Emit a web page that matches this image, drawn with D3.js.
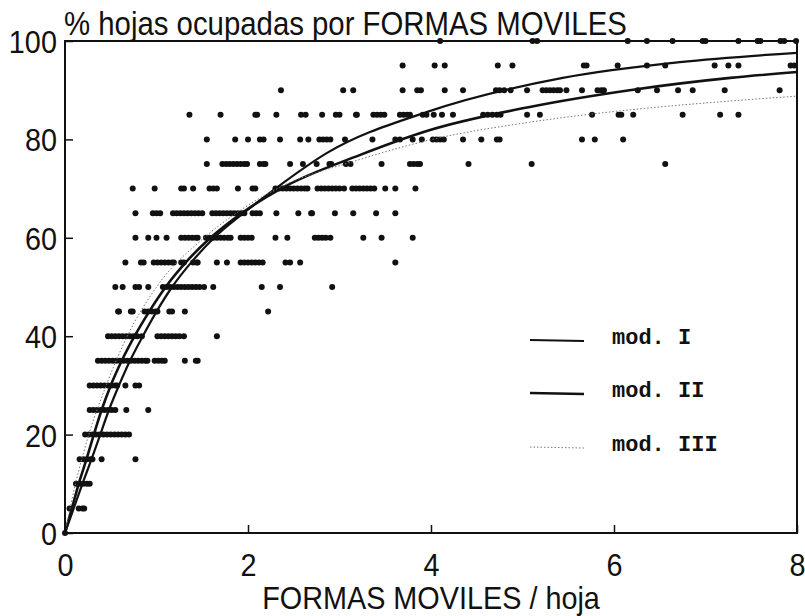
<!DOCTYPE html>
<html>
<head>
<meta charset="utf-8">
<script src="https://cdnjs.cloudflare.com/ajax/libs/d3/7.8.5/d3.min.js"></script>
<style>
body { margin: 0; background: #fff; }
text { font-family: "Liberation Sans", Arial, sans-serif; fill: #111; }
</style>
</head>
<body>
<svg id="chart" width="805" height="616"></svg>
<script>
// % of leaves occupied, one row of observations per 5 % step
var rowPct = [100, 95, 90, 85, 80, 75, 70, 65, 60, 55, 50, 45, 40, 35, 30, 25, 20, 15, 10, 5, 0];

// forms per leaf for every observation in the row above
var rowX = [
	[4.10, 5.11, 5.16, 6.15, 6.36, 6.64, 6.97, 7.00, 7.36, 7.57, 7.60, 7.82, 7.86, 7.99],
	[3.69, 4.04, 4.15, 4.73, 4.89, 5.67, 5.70, 6.04, 6.36, 6.56, 7.10, 7.25, 7.36, 7.93, 7.97],
	[2.36, 3.04, 3.15, 3.69, 3.85, 3.89, 4.15, 4.35, 4.71, 4.75, 4.80, 4.87, 5.05, 5.22, 5.26, 5.30, 5.34, 5.38, 5.41, 5.48, 5.65, 5.82, 5.86, 5.89, 6.26, 6.47, 6.70, 6.86, 7.21, 7.81],
	[1.36, 1.70, 2.08, 2.10, 2.31, 2.58, 2.63, 2.81, 2.96, 3.00, 3.18, 3.19, 3.37, 3.41, 3.45, 3.49, 3.66, 3.70, 3.74, 3.77, 3.91, 3.95, 4.03, 4.12, 4.24, 4.57, 4.62, 4.67, 4.72, 4.76, 5.05, 5.19, 5.76, 6.05, 6.08, 6.21, 6.75, 7.16, 7.36],
	[1.55, 1.86, 2.00, 2.13, 2.17, 2.35, 2.57, 2.66, 2.78, 2.82, 2.86, 2.90, 3.06, 3.36, 3.61, 3.66, 3.80, 3.90, 4.02, 4.06, 4.10, 4.14, 4.35, 4.55, 4.72, 4.75, 5.65, 5.79, 6.10],
	[1.55, 1.72, 1.76, 1.80, 1.84, 1.88, 1.92, 1.96, 1.99, 2.13, 2.17, 2.19, 2.46, 2.60, 2.75, 2.89, 2.91, 3.07, 3.12, 3.46, 3.77, 3.81, 3.85, 3.88, 4.41, 5.10, 6.56],
	[0.74, 0.98, 1.27, 1.30, 1.40, 1.58, 1.62, 1.66, 1.89, 2.05, 2.08, 2.30, 2.34, 2.38, 2.42, 2.46, 2.50, 2.54, 2.58, 2.62, 2.65, 2.76, 2.80, 2.84, 2.88, 2.92, 2.96, 3.00, 3.05, 3.14, 3.18, 3.22, 3.26, 3.30, 3.34, 3.38, 3.50, 3.61, 3.83],
	[0.77, 0.96, 1.00, 1.04, 1.18, 1.22, 1.26, 1.30, 1.34, 1.38, 1.42, 1.46, 1.50, 1.61, 1.65, 1.69, 1.73, 1.77, 1.81, 1.85, 1.89, 1.93, 1.96, 2.05, 2.09, 2.13, 2.31, 2.55, 2.69, 2.70, 2.95, 3.15, 3.40, 3.61],
	[0.77, 0.91, 1.00, 1.11, 1.27, 1.31, 1.35, 1.39, 1.43, 1.45, 1.54, 1.58, 1.62, 1.66, 1.70, 1.74, 1.78, 1.81, 1.92, 1.96, 2.00, 2.04, 2.30, 2.43, 2.73, 2.77, 2.81, 2.85, 2.90, 3.26, 3.46, 3.80],
	[0.66, 0.83, 0.86, 0.97, 1.01, 1.05, 1.09, 1.13, 1.17, 1.19, 1.27, 1.30, 1.40, 1.44, 1.45, 1.66, 1.77, 1.92, 1.96, 2.00, 2.04, 2.08, 2.12, 2.16, 2.41, 2.46, 2.57, 3.61],
	[0.55, 0.63, 0.77, 0.81, 0.91, 1.07, 1.11, 1.15, 1.19, 1.23, 1.27, 1.31, 1.35, 1.39, 1.43, 1.47, 1.52, 1.62, 2.15, 2.35, 2.92],
	[0.58, 0.59, 0.72, 0.74, 0.87, 0.91, 0.95, 0.99, 1.01, 1.14, 1.17, 1.31, 2.22],
	[0.47, 0.51, 0.55, 0.59, 0.63, 0.67, 0.71, 0.75, 0.79, 0.84, 1.01, 1.05, 1.09, 1.13, 1.17, 1.21, 1.25, 1.30, 1.66],
	[0.36, 0.40, 0.44, 0.48, 0.52, 0.56, 0.60, 0.64, 0.68, 0.72, 0.76, 0.80, 0.84, 0.88, 0.90, 0.98, 1.02, 1.06, 1.09, 1.31, 1.43, 1.45],
	[0.27, 0.31, 0.35, 0.39, 0.43, 0.47, 0.51, 0.55, 0.57, 0.66, 0.77, 0.81],
	[0.27, 0.31, 0.35, 0.39, 0.43, 0.47, 0.51, 0.55, 0.67, 0.91],
	[0.22, 0.26, 0.30, 0.34, 0.38, 0.42, 0.46, 0.50, 0.54, 0.58, 0.62, 0.66, 0.70],
	[0.16, 0.20, 0.24, 0.28, 0.30, 0.40, 0.77],
	[0.12, 0.16, 0.20, 0.24, 0.27],
	[0.05, 0.15, 0.19, 0.21],
	[0.00]
];

// fitted models
var modIx = [0, 0.095, 0.19, 0.29, 0.385, 0.48, 0.59, 0.71, 0.85, 1.00, 1.17, 1.38, 1.63, 1.95, 2.30, 2.86, 3.96, 5.44, 6.72, 8];
var modIy = [0, 5, 10, 15, 20, 25, 30, 35, 40, 45, 50, 55, 60, 65, 70, 77.2, 85.6, 92.5, 95.7, 97.6];
var modIIx = [0, 0.075, 0.15, 0.235, 0.315, 0.40, 0.50, 0.62, 0.76, 0.92, 1.10, 1.32, 1.59, 1.93, 2.36, 3.22, 3.99, 5.08, 6.17, 7.27, 8];
var modIIy = [0, 5, 10, 15, 20, 25, 30, 35, 40, 45, 50, 55, 60, 65, 70, 76.8, 81.9, 86.6, 90, 92.5, 93.7];
var modIIIx = [0, 0.055, 0.115, 0.26, 0.45, 0.68, 1.00, 1.52, 1.87, 2.32, 3.22, 3.99, 5.08, 6.17, 7.27, 8];
var modIIIy = [0, 5, 10, 20, 30, 40, 50, 60, 65, 70, 75.9, 79.9, 83.5, 86.0, 87.8, 88.8];

var xTicks = [0, 2, 4, 6, 8];
var yTicks = [0, 20, 40, 60, 80, 100];
var legendNames = ["mod. I", "mod. II", "mod. III"];

var svg = d3.select("#chart");

var x = d3.scaleLinear().domain([0, 8]).range([65, 797]);
var y = d3.scaleLinear().domain([0, 100]).range([533, 41]);

var points = [];
rowPct.forEach(function(p, i) {
	rowX[i].forEach(function(v) { points.push({ x: v, y: p }); });
});

svg.append("g")
	.selectAll("circle")
	.data(points)
	.enter()
	.append("circle")
	.attr("cx", function(d) { return x(d.x); })
	.attr("cy", function(d) { return y(d.y); })
	.attr("r", 3)
	.attr("fill", "#111");

var line = d3.line()
	.x(function(d) { return x(d[0]); })
	.y(function(d) { return y(d[1]); })
	.curve(d3.curveMonotoneX);

var models = [
	{ xs: modIx, ys: modIy, width: 2.2, color: "#111", dash: null },
	{ xs: modIIx, ys: modIIy, width: 2.6, color: "#111", dash: null },
	{ xs: modIIIx, ys: modIIIy, width: 1, color: "#777", dash: "1.5,2" }
];

models.forEach(function(m) {
	svg.append("path")
		.datum(d3.zip(m.xs, m.ys))
		.attr("d", line)
		.attr("fill", "none")
		.attr("stroke", m.color)
		.attr("stroke-width", m.width)
		.attr("stroke-dasharray", m.dash);
});

// frame
svg.append("rect")
	.attr("x", x(0))
	.attr("y", y(100))
	.attr("width", x(8) - x(0))
	.attr("height", y(0) - y(100))
	.attr("fill", "none")
	.attr("stroke", "#111")
	.attr("stroke-width", 2);

var xAxis = svg.append("g")
	.attr("transform", "translate(0," + y(0) + ")")
	.call(d3.axisBottom(x).tickValues(xTicks).tickSizeInner(-8).tickSizeOuter(0).tickPadding(20));

var yAxis = svg.append("g")
	.attr("transform", "translate(" + x(0) + ",0)")
	.call(d3.axisLeft(y).tickValues(yTicks).tickSizeInner(-8).tickSizeOuter(0).tickPadding(9));

[xAxis, yAxis].forEach(function(a) {
	a.select(".domain").remove();
	a.selectAll(".tick line").attr("stroke", "#111").attr("stroke-width", 1.5);
	a.selectAll(".tick text")
		.attr("fill", "#111")
		.style("font-family", "'Liberation Sans', Arial, sans-serif")
		.style("font-size", "32px")
		.attr("transform", "scale(0.9,1)");
});
yAxis.selectAll(".tick text").attr("dy", "0.36em");
xAxis.selectAll(".tick text").attr("dy", "0.71em");

svg.append("text")
	.attr("transform", "translate(64,35) scale(0.89,1)")
	.style("font-size", "33px")
	.text("% hojas ocupadas por FORMAS MOVILES");

svg.append("text")
	.attr("transform", "translate(431,609) scale(0.9,1)")
	.attr("text-anchor", "middle")
	.style("font-size", "32px")
	.text("FORMAS MOVILES / hoja");

// legend
var legendY = [340, 393, 447];
legendNames.forEach(function(name, i) {
	svg.append("line")
		.attr("x1", 530).attr("x2", 584)
		.attr("y1", legendY[i]).attr("y2", legendY[i] + 1)
		.attr("stroke", models[i].color)
		.attr("stroke-width", models[i].width)
		.attr("stroke-dasharray", models[i].dash);
	svg.append("text")
		.attr("x", 612)
		.attr("y", legendY[i] + 4)
		.style("font-family", "'Liberation Mono', 'Courier New', monospace")
		.style("font-size", "22px")
		.style("font-weight", "bold")
		.text(name);
});
</script>
</body>
</html>
